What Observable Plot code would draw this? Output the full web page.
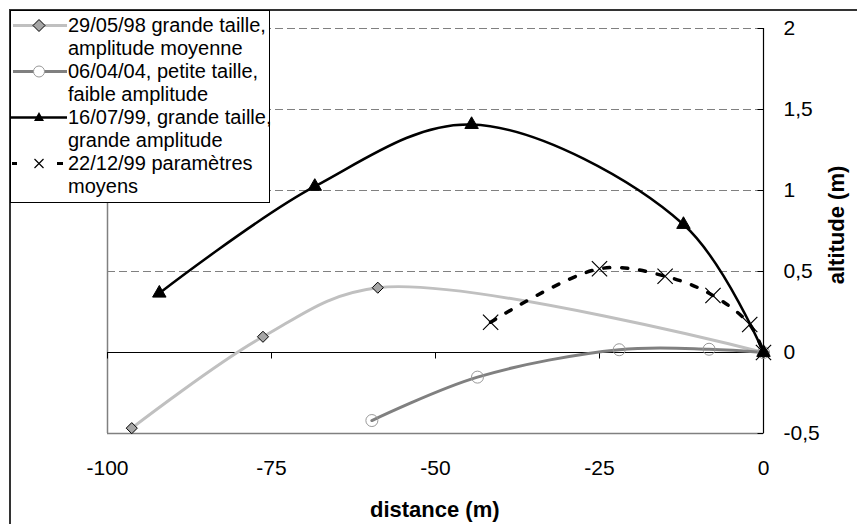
<!DOCTYPE html>
<html>
<head>
<meta charset="utf-8">
<script src="https://cdn.jsdelivr.net/npm/d3@7"></script>
<script src="https://cdn.jsdelivr.net/npm/@observablehq/plot@0.6"></script>
<style>
  body { margin: 0; background: #fff; }
  #wrap { position: relative; width: 857px; height: 524px; overflow: hidden; font-family: "Liberation Sans", Arial, sans-serif; }
  #chart { position: absolute; left: 0; top: 0; }
  #frame { position: absolute; left: 9px; top: 9px; width: 900px; height: 600px; border-left: 2px solid #333; border-top: 2px solid #333; pointer-events: none; }
  #legend { position: absolute; left: 10px; top: 10px; width: 258px; height: 188px; padding-top: 3px; border: 1px solid #000; background: #fff; box-sizing: content-box; }
  .entry { position: relative; }
  .entry svg { position: absolute; left: 0; top: 0; }
  .entry .txt { margin-left: 57px; font-size: 20px; line-height: 23px; color: #000; white-space: nowrap; }
  .title { position: absolute; font-weight: bold; font-size: 22px; color: #000; white-space: nowrap; }
</style>
</head>
<body>
<div id="wrap">
  <div id="chart"></div>
  <div id="frame"></div>
  <div id="legend"></div>
  <div class="title" id="xtitle"></div>
  <div class="title" id="ytitle"></div>
</div>
<script>
// ---- data ----
const dist98 = [-96.3, -76.3, -58.8, 0];
const alt98 = [-0.467, 0.097, 0.40, 0];
const dist04 = [-59.7, -43.6, -22.0, -8.3, 0];
const alt04 = [-0.42, -0.152, 0.017, 0.02, 0];
const dist99a = [-92.1, -68.4, -44.5, -12.2, 0];
const alt99a = [0.366, 1.025, 1.407, 0.79, 0];
const dist99b = [-41.6, -25.0, -15.0, -7.7, -2.1, 0];
const alt99b = [0.187, 0.517, 0.471, 0.352, 0.173, 0];
const seriesLabels = [
  ["29/05/98 grande taille,", "amplitude moyenne"],
  ["06/04/04, petite taille,", "faible amplitude"],
  ["16/07/99, grande taille,", "grande amplitude"],
  ["22/12/99 paramètres", "moyens"]
];
const xTicks = [-100, -75, -50, -25, 0];
const yTicks = [-0.5, 0, 0.5, 1, 1.5, 2];
const gridTicks = [0.5, 1, 1.5, 2];
const xTitle = "distance (m)";
const yTitle = "altitude (m)";

const toPts = (xs, ys) => xs.map((x, i) => ({x, y: ys[i]}));
const s98 = toPts(dist98, alt98);
const s04 = toPts(dist04, alt04);
const s99a = toPts(dist99a, alt99a);
const s99b = toPts(dist99b, alt99b);

const tickDown = {draw(ctx) { ctx.moveTo(0, 0); ctx.lineTo(0, 6); }};
const tickLeft = {draw(ctx) { ctx.moveTo(0, 0); ctx.lineTo(-6, 0); }};

const chart = Plot.plot({
  width: 857,
  height: 524,
  marginLeft: 107,
  marginRight: 94,
  marginTop: 28,
  marginBottom: 91,
  style: {fontFamily: "'Liberation Sans', Arial, sans-serif", fontSize: "21px", color: "#000", background: "transparent"},
  x: {domain: [-100, 0]},
  y: {domain: [-0.5, 2]},
  marks: [
    Plot.ruleY(gridTicks, {y: d => d, stroke: "#808080", strokeWidth: 1, strokeDasharray: "8,4"}),
    Plot.ruleX([-100], {x: d => d, y1: -0.5, y2: 2, stroke: "#808080", strokeWidth: 1.5}),
    Plot.ruleY([-0.5], {y: d => d, stroke: "#808080", strokeWidth: 1.5}),
    Plot.ruleY([0], {y: d => d, stroke: "#000", strokeWidth: 1}),
    Plot.ruleX([0], {x: d => d, y1: -0.5, y2: 2, stroke: "#000", strokeWidth: 1.2}),
    Plot.dot(xTicks, {x: d => d, y: 0, symbol: tickDown, stroke: "#000", strokeWidth: 1, r: 3}),
    Plot.dot(yTicks, {x: 0, y: d => d, symbol: tickLeft, stroke: "#000", strokeWidth: 1, r: 3}),
    Plot.axisX(xTicks, {anchor: "bottom", tickSize: 0, tickPadding: 27, tickFormat: d => String(d), fontSize: 21, label: null}),
    Plot.axisY(yTicks, {anchor: "right", tickSize: 0, tickPadding: 20, tickFormat: d => String(d).replace(".", ","), fontSize: 21, label: null}),
    // series 1
    Plot.line(s98, {x: "x", y: "y", stroke: "#c0c0c0", strokeWidth: 3, curve: "catmull-rom"}),
    Plot.dot(s98, {x: "x", y: "y", symbol: "diamond2", r: 5, fill: "#a6a6a6", stroke: "#000", strokeWidth: 1}),
    // series 2
    Plot.line(s04, {x: "x", y: "y", stroke: "#808080", strokeWidth: 3, curve: "catmull-rom"}),
    Plot.dot(s04, {x: "x", y: "y", symbol: "circle", r: 6, fill: "none", stroke: "#999", strokeWidth: 1}),
    // series 3
    Plot.line(s99a, {x: "x", y: "y", stroke: "#000", strokeWidth: 2.5, curve: "catmull-rom"}),
    Plot.dot(s99a, {x: "x", y: "y", symbol: "triangle", r: 5, fill: "#000", stroke: "#000", strokeWidth: 1}),
    // series 4
    Plot.line(s99b, {x: "x", y: "y", stroke: "#000", strokeWidth: 3.5, strokeDasharray: "6,12", curve: "catmull-rom"}),
    Plot.dot(s99b, {x: "x", y: "y", symbol: "times", r: 7, stroke: "#000", strokeWidth: 1.2})
  ]
});
document.getElementById("chart").appendChild(chart);

// ---- legend ----
const legendSyms = [
  `<line x1="2" y1="11.5" x2="56" y2="11.5" stroke="#c0c0c0" stroke-width="3"/><path d="M28,5.5L34,11.5L28,17.5L22,11.5Z" fill="#a6a6a6" stroke="#000" stroke-width="1"/>`,
  `<line x1="2" y1="11.5" x2="56" y2="11.5" stroke="#808080" stroke-width="3"/><circle cx="28" cy="11.5" r="5.5" fill="#fff" stroke="#999" stroke-width="1"/>`,
  `<line x1="0" y1="11.5" x2="56" y2="11.5" stroke="#000" stroke-width="2.5"/><path d="M28,6L33,15L23,15Z" fill="#000"/>`,
  `<line x1="1" y1="11.5" x2="52" y2="11.5" stroke="#000" stroke-width="3" stroke-dasharray="5,40,6"/><path d="M23.5,7L32.5,16M32.5,7L23.5,16" stroke="#000" stroke-width="1.2"/>`
];
const legend = document.getElementById("legend");
seriesLabels.forEach((lines, i) => {
  const e = document.createElement("div");
  e.className = "entry";
  e.innerHTML = `<svg width="57" height="23">${legendSyms[i]}</svg><div class="txt">${lines.join("<br>")}</div>`;
  legend.appendChild(e);
});

// ---- titles ----
const xt = document.getElementById("xtitle");
xt.textContent = xTitle;
xt.style.left = (435 - xt.offsetWidth / 2) + "px";
xt.style.top = (510 - xt.offsetHeight / 2) + "px";
const yt = document.getElementById("ytitle");
yt.textContent = yTitle;
yt.style.left = (837 - yt.offsetWidth / 2) + "px";
yt.style.top = (225 - yt.offsetHeight / 2) + "px";
yt.style.transform = "rotate(-90deg)";
</script>
</body>
</html>
